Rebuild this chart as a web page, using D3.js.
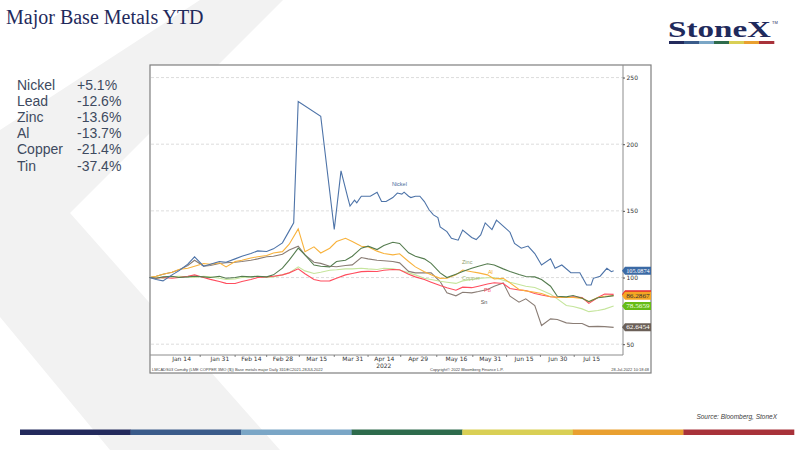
<!DOCTYPE html>
<html>
<head>
<meta charset="utf-8">
<script src="https://cdn.jsdelivr.net/npm/d3@7/dist/d3.min.js"></script>
<style>
body { margin: 0; background: #fff; }
svg text { font-family: "Liberation Sans", Arial, sans-serif; }
</style>
</head>
<body>
<div id="chart"></div>
<script>
// Major Base Metals YTD - LME prices rebased to 100 on 31 Dec 2021


// 1) Data

// calendar days since 31 Dec 2021 for the sampled points (Pb, Zn, Al, Cu, Sn)
var dayNo = [0,3,6,10,13,17,20,24,27,31, 34,38,41,45,48,52,55,59,62,66,
             69,73,76,80,83,87,90,94,97,101, 104,108,111,115,118,122,125,129,132,136,
             139,143,146,150,153,157,160,164,167,171, 174,178,181,185,188,192,195,199,202,206];

var lead = [100,99.5,100,99.5,100,101,102,100,98.6,97, 95.6,95.5,97,98.5,100,100.5,101,102,103.5,106.5,
            102.8,98.5,97.4,97.5,99.5,102,103,104.4,104.6,104.5, 105.5,106,105.8,102.5,100.5,98.5,96.5,94,92.3,90.5,
            92.8,92.4,93.5,95.1,96.1,95.5,91.8,90.6,90.2,88, 86.9,85.6,85.2,85,85.5,85,80.6,85,87.6,87.4];

var zinc = [100,99.5,100.5,101,100,100.5,101,100.5,100,101, 99.5,100,101,100.5,101,100.5,102,107,113,122,
            117,109.4,108.5,108,112,113,116,122,123.5,121, 124,126.5,125.6,118.5,116,114,110.6,103.5,100,102.5,
            104.5,106.9,108.5,110.3,109.4,106.5,104.5,102.3,100.8,100.5, 98.5,93.5,86,85.5,86.5,84.4,81.9,84.8,85.4,86.4];

var alu = [100,101,102.5,104,106,107,108.5,110.5,110,111, 108,112,113,114.6,115.6,116.5,118.4,119.4,125,136.5,
           119.4,123,118.4,122,127,129.4,127,123.5,123,119.8, 118,117,117.8,112,108,104.4,102,99.4,99.5,102,
           105.6,104.4,103.5,102,99,99.5,96,91,90,89, 88,85.6,85.2,85,85,84.4,82,85,86,86.3];

var copper = [100,100.5,99.5,100.5,101,100.5,100,101,100.5,99.5, 98.5,99,100,100.5,101,100,100.5,102,103.5,108,
              105,103,104,105.5,105.8,106.5,106.5,107,106.5,106, 107,106.5,105.6,103.5,102,99.4,98.5,97.2,96.5,95.6,
              97.5,98.5,99.4,99.8,100,98,96.5,94.8,93.5,92.5, 90.5,87.5,84,79,78.3,76.5,74.4,75.3,76.3,78.6];

var tin = [100,101,102.5,104,105.6,109,113,108.6,109,110.5, 111.1,111.5,112,113,114,115.6,116,117.5,120.6,123.5,
           117,111.5,110.6,108.5,108.1,109,109.5,115,114,113, 112.6,112,111,104.6,103.5,103.5,103.5,97,88.5,86.3,
           89,88.5,89.5,91,93.5,96,86,81.5,84,79, 64,69,68.5,66,65.5,65.5,63.2,63.4,63.2,62.6];

// nickel has its own sampling because of the March squeeze
var nickelDayNo = [0,3,6,10,13,17,20,24,27,31, 34,38,41,45,48,52,55,59,62,64,
                   66,76,82,85,88,89,91,92,94,98, 101,103,105,108,110,112,113,115,116,118,
                   120,122,124,126,128,129,132,134,137,139, 143,145,147,149,152,154,157,160,162,165,
                   168,171,174,178,180,183,187,191,194,196, 197,200,203,205,206];
var nickel = [100,98.5,97.5,102,105,110,115.5,108.5,110,112, 111.5,114,116,118,120,119.5,121.5,126,135,141,
              232,221,136,180,160,153.6,158,156,161,161, 164,157,157,160,163.4,162.6,164,161,160,161,
              161,157,151,147,145,138,134.4,129.4,128,135.6, 130,128.5,132,141,136,143,138.6,134,125.6,122,
              123.6,118,109.4,114,107,109.4,103.6,103.6,94.4,94.4, 99.4,101,106.9,104.4,105.1];

// summary table on the left
var legendNames = ["Nickel", "Lead", "Zinc", "Al", "Copper", "Tin"];
var legendChanges = ["+5.1%", "-12.6%", "-13.6%", "-13.7%", "-21.4%", "-37.4%"];

// x axis labels and right axis ticks
var tickDates = ["2022-01-14","2022-01-31","2022-02-14","2022-02-28","2022-03-15","2022-03-31","2022-04-14",
                 "2022-04-29","2022-05-16","2022-05-31","2022-06-15","2022-06-30","2022-07-15"];
var yTicks = [50, 100, 150, 200, 250];

// last value tags (Pb first so that Al covers it)
var tagNames = ["Nickel", "Pb", "Al", "Copper", "Sn"];
var tagValues = [105.0874, 87.3962, 86.2867, 78.5659, 62.6454];

var barColors = ["#232a5c", "#3a5b8a", "#7aa6c6", "#2e6b4c", "#d9cf55", "#e9a030", "#a8323a"];


// 2) Scales

var startDate = new Date(2021, 11, 31);
var toDate = function (n) { return d3.timeDay.offset(startDate, n); };

var x = d3.scaleTime()
    .domain([startDate, toDate(209)])
    .range([149.5, 620.4]);

var y = d3.scaleLinear()
    .domain([41.9, 259.4])
    .range([355, 65]);

var chart = d3.select("#chart").append("svg")
    .attr("width", 800)
    .attr("height", 450);


// 3) Background and page furniture

// big light grey chevron of the template
chart.append("polygon")
    .attr("points", "200,0 283,0 70,213 280,450 110,450 0,317 0,130")
    .attr("fill", "#f2f2f2");

chart.append("text")
    .attr("x", 6).attr("y", 24)
    .style("font-family", "'Liberation Serif', 'Times New Roman', serif")
    .attr("font-size", 20)
    .attr("fill", "#1f2a5c")
    .text("Major Base Metals YTD");

// StoneX logo
chart.append("text")
    .attr("x", 668).attr("y", 37)
    .style("font-family", "'Liberation Serif', 'Times New Roman', serif")
    .attr("font-size", 24)
    .attr("font-weight", "bold")
    .attr("fill", "#1f2a5c")
    .attr("textLength", 103)
    .attr("lengthAdjust", "spacingAndGlyphs")
    .text("StoneX");
chart.append("text")
    .attr("x", 772).attr("y", 24)
    .attr("font-size", 4)
    .attr("fill", "#1f2a5c")
    .text("TM");

var logoBar = d3.scaleBand().domain(d3.range(barColors.length)).range([669, 774]);
chart.selectAll(".logoBar")
    .data(barColors)
    .enter().append("rect")
    .attr("x", function (d, i) { return logoBar(i); })
    .attr("y", 41)
    .attr("width", logoBar.bandwidth() + 0.3)
    .attr("height", 3)
    .attr("fill", function (d) { return d; });

// bottom colour bar
var footBar = d3.scaleBand().domain(d3.range(barColors.length)).range([20, 794]);
chart.selectAll(".footBar")
    .data(barColors)
    .enter().append("rect")
    .attr("x", function (d, i) { return footBar(i); })
    .attr("y", 429.5)
    .attr("width", footBar.bandwidth() + 0.3)
    .attr("height", 5.5)
    .attr("fill", function (d) { return d; });

chart.append("text")
    .attr("x", 777).attr("y", 419)
    .attr("text-anchor", "end")
    .attr("font-size", 6.5)
    .attr("font-style", "italic")
    .attr("fill", "#404040")
    .text("Source: Bloomberg, StoneX");

// summary table
var legend = chart.append("g").attr("fill", "#3e4a60").attr("font-size", 14);
legend.selectAll(".lname")
    .data(legendNames)
    .enter().append("text")
    .attr("x", 17)
    .attr("y", function (d, i) { return 90 + i * 16.1; })
    .text(function (d) { return d; });
legend.selectAll(".lchg")
    .data(legendChanges)
    .enter().append("text")
    .attr("x", 77)
    .attr("y", function (d, i) { return 90 + i * 16.1; })
    .text(function (d) { return d; });


// 4) Chart frame, grid and axes

chart.append("rect")
    .attr("x", 150).attr("y", 65)
    .attr("width", 501).attr("height", 308)
    .attr("fill", "#fff")
    .attr("stroke", "#7f7f7f")
    .attr("stroke-width", 1.2);

chart.selectAll(".grid")
    .data(yTicks)
    .enter().append("line")
    .attr("x1", 151).attr("x2", 623)
    .attr("y1", function (d) { return y(d); })
    .attr("y2", function (d) { return y(d); })
    .attr("stroke", "#d4d4d4")
    .attr("stroke-width", 0.8)
    .attr("stroke-dasharray", "3,2");

var yAxis = chart.append("g")
    .attr("transform", "translate(623,0)")
    .call(d3.axisRight(y).tickValues(yTicks).tickSize(2).tickPadding(1.5));
yAxis.select(".domain").attr("stroke", "#8c8c8c").attr("d", "M0,65V355");
yAxis.selectAll(".tick line").attr("stroke", "#555");
yAxis.selectAll("text").attr("font-size", 6).attr("fill", "#333")
    .style("font-family", "'DejaVu Sans', sans-serif");

var parseDate = d3.timeParse("%Y-%m-%d");
var tickDatesParsed = tickDates.map(parseDate);

var xAxis = chart.append("g")
    .attr("transform", "translate(0,355)")
    .call(d3.axisBottom(x).tickValues(tickDatesParsed).tickSize(0).tickPadding(1.5)
        .tickFormat(d3.timeFormat("%b %d")));
xAxis.select(".domain").attr("stroke", "#8c8c8c").attr("d", "M150,0H623");
xAxis.selectAll("text").attr("font-size", 6).attr("fill", "#333")
    .style("font-family", "'DejaVu Sans', sans-serif");

// small tick marks sit between the labels
var midTicks = tickDatesParsed.slice(1).map(function (d, i) {
    return new Date((d.getTime() + tickDatesParsed[i].getTime()) / 2);
});
chart.selectAll(".xtick")
    .data(midTicks)
    .enter().append("line")
    .attr("x1", function (d) { return x(d); })
    .attr("x2", function (d) { return x(d); })
    .attr("y1", 355).attr("y2", 357)
    .attr("stroke", "#555")
    .attr("stroke-width", 0.7);

chart.append("text")
    .attr("x", x(parseDate("2022-04-14"))).attr("y", 368.2)
    .attr("text-anchor", "middle")
    .attr("font-size", 6).attr("fill", "#333")
    .style("font-family", "'DejaVu Sans', sans-serif")
    .text("2022");

// Bloomberg footer line
var footer = chart.append("g").attr("font-size", 4).attr("fill", "#444");
footer.append("text").attr("x", 152).attr("y", 371.3)
    .text("LMCADS03 Comdty (LME COPPER      3MO ($))  Base metals major   Daily 31DEC2021-28JUL2022");
footer.append("text").attr("x", 430).attr("y", 371.3)
    .text("Copyright\u00a9 2022 Bloomberg Finance L.P.");
footer.append("text").attr("x", 649).attr("y", 371.3).attr("text-anchor", "end")
    .text("28-Jul-2022 10:18:48");


// 5) Series

var line = d3.line()
    .x(function (d) { return x(d.date); })
    .y(function (d) { return y(d.value); });

var makeSeries = function (days, values) {
    return days.map(function (n, i) { return { date: toDate(n), value: values[i] }; });
};

var series = [
    { name: "Sn",     color: "#8a7d75", data: makeSeries(dayNo, tin) },
    { name: "Copper", color: "#c5e59c", data: makeSeries(dayNo, copper) },
    { name: "Pb",     color: "#ff4d5e", data: makeSeries(dayNo, lead) },
    { name: "Al",     color: "#f8b23c", data: makeSeries(dayNo, alu) },
    { name: "Zinc",   color: "#557c4f", data: makeSeries(dayNo, zinc) },
    { name: "Nickel", color: "#4d73a8", data: makeSeries(nickelDayNo, nickel) }
];

chart.append("g").selectAll("path")
    .data(series)
    .enter().append("path")
    .attr("d", function (d) { return line(d.data); })
    .attr("fill", "none")
    .attr("stroke", function (d) { return d.color; })
    .attr("stroke-width", 1.1);

// in-chart series labels, anchored in data space
var labels = [
    { text: "Nickel", day: 107.6, value: 168.6, color: "#4a6a9a" },
    { text: "Zinc",   day: 138.7, value: 110,   color: "#8c9c70" },
    { text: "Al",     day: 150.2, value: 102.6, color: "#f5a623" },
    { text: "Copper", day: 138.7, value: 98.5,  color: "#a6bd78" },
    { text: "Pb",     day: 148.5, value: 89.1,  color: "#ff4d5e" },
    { text: "Sn",     day: 147,   value: 80.1,  color: "#555" }
];
chart.append("g").selectAll("text")
    .data(labels)
    .enter().append("text")
    .attr("x", function (d) { return x(startDate) + (x(toDate(1)) - x(startDate)) * d.day; })
    .attr("y", function (d) { return y(d.value); })
    .attr("font-size", 5.5)
    .attr("fill", function (d) { return d.color; })
    .text(function (d) { return d.text; });

// last value tags on the right axis
var tagFill = { Nickel: "#3b6aa5", Pb: "#e3262f", Al: "#f5a623", Copper: "#66bb16", Sn: "#6b6058" };
var tagText = { Nickel: "#fff", Pb: "#fff", Al: "#333", Copper: "#f0ffe0", Sn: "#fff" };
var fmt = d3.format(".4f");

var tags = chart.append("g").selectAll("g")
    .data(tagNames)
    .enter().append("g")
    .attr("transform", function (d, i) { return "translate(624," + y(tagValues[i]) + ")"; });
tags.append("path")
    .attr("d", "M-2,0L1,-4H27V4H1Z")
    .attr("fill", function (d) { return tagFill[d]; });
tags.append("text")
    .attr("x", 2.2).attr("y", 2.1)
    .attr("font-size", 6)
    .style("font-family", "'Liberation Serif', serif")
    .attr("textLength", 23.5)
    .attr("lengthAdjust", "spacingAndGlyphs")
    .attr("fill", function (d) { return tagText[d]; })
    .text(function (d, i) { return fmt(tagValues[i]); });
</script>
</body>
</html>
